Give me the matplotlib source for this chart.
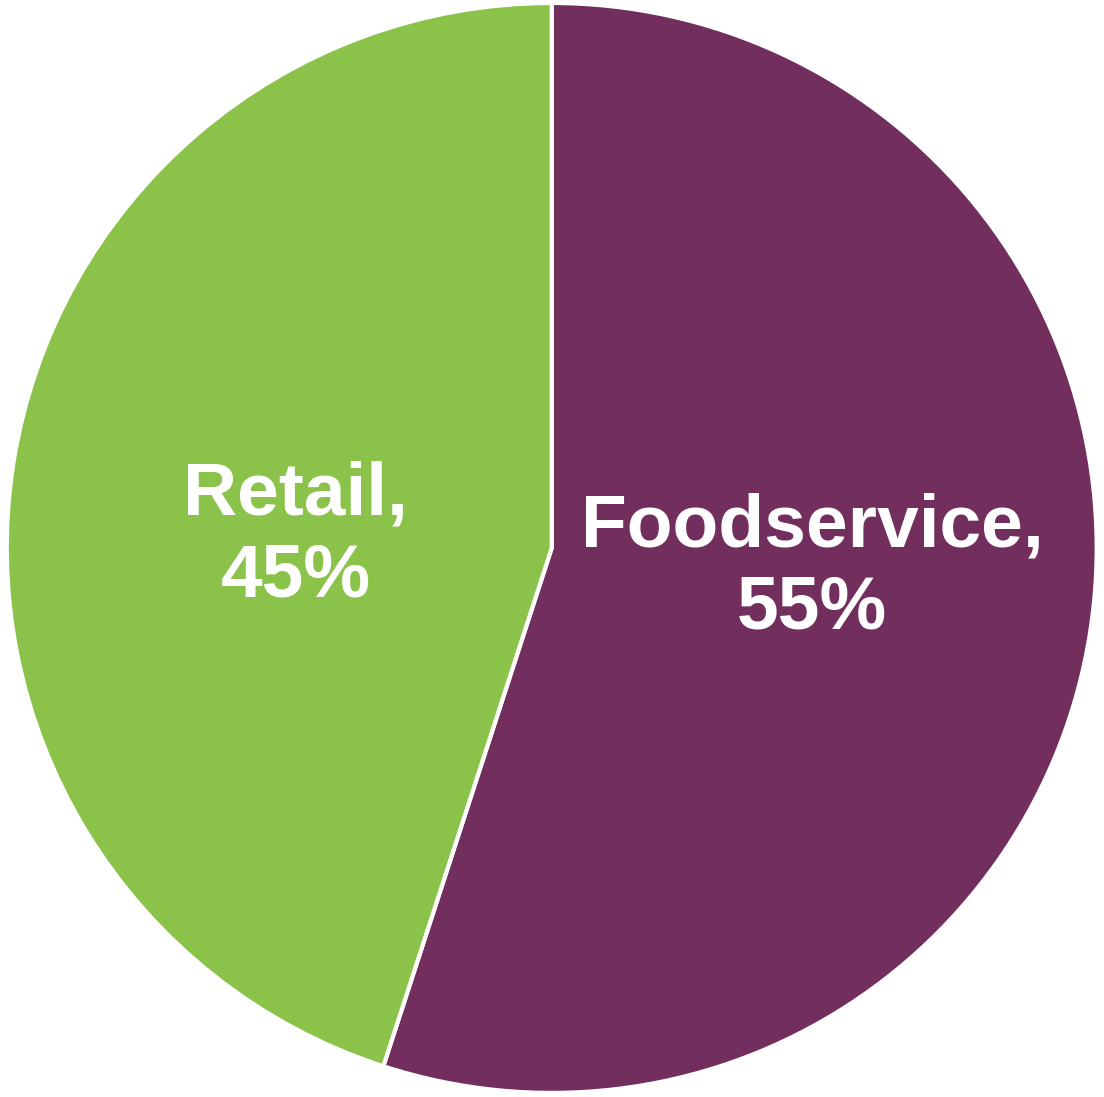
import matplotlib
matplotlib.use("Agg")
import matplotlib.pyplot as plt

# Market split by channel
channels = ["Foodservice", "Retail"]
shares = [55, 45]
colors = ["#722F5E", "#8BC34A"]

# label anchor points inside each wedge (pie radius = 1)
label_xy = [(0.478, -0.037), (-0.47, 0.022)]

fig = plt.figure(figsize=(11.04, 10.97), dpi=100)
ax = fig.add_axes([0, 0, 1, 1])

wedges, _ = ax.pie(
    shares, colors=colors, startangle=90, counterclock=False,
    radius=1.0, wedgeprops=dict(edgecolor="white", linewidth=3),
)

for name, pct, (x, y) in zip(channels, shares, label_xy):
    ax.text(x, y, f"{name},\n{pct}%", ha="center", va="center",
            color="white", fontsize=54, fontweight="bold",
            family="Liberation Sans", linespacing=1.25)

ax.set_xlim(-1.012, 1.013)
ax.set_ylim(-1.0075, 1.0055)
ax.set_aspect("equal")
ax.axis("off")

plt.savefig("out.png", dpi=100, facecolor="white")
plt.close()
